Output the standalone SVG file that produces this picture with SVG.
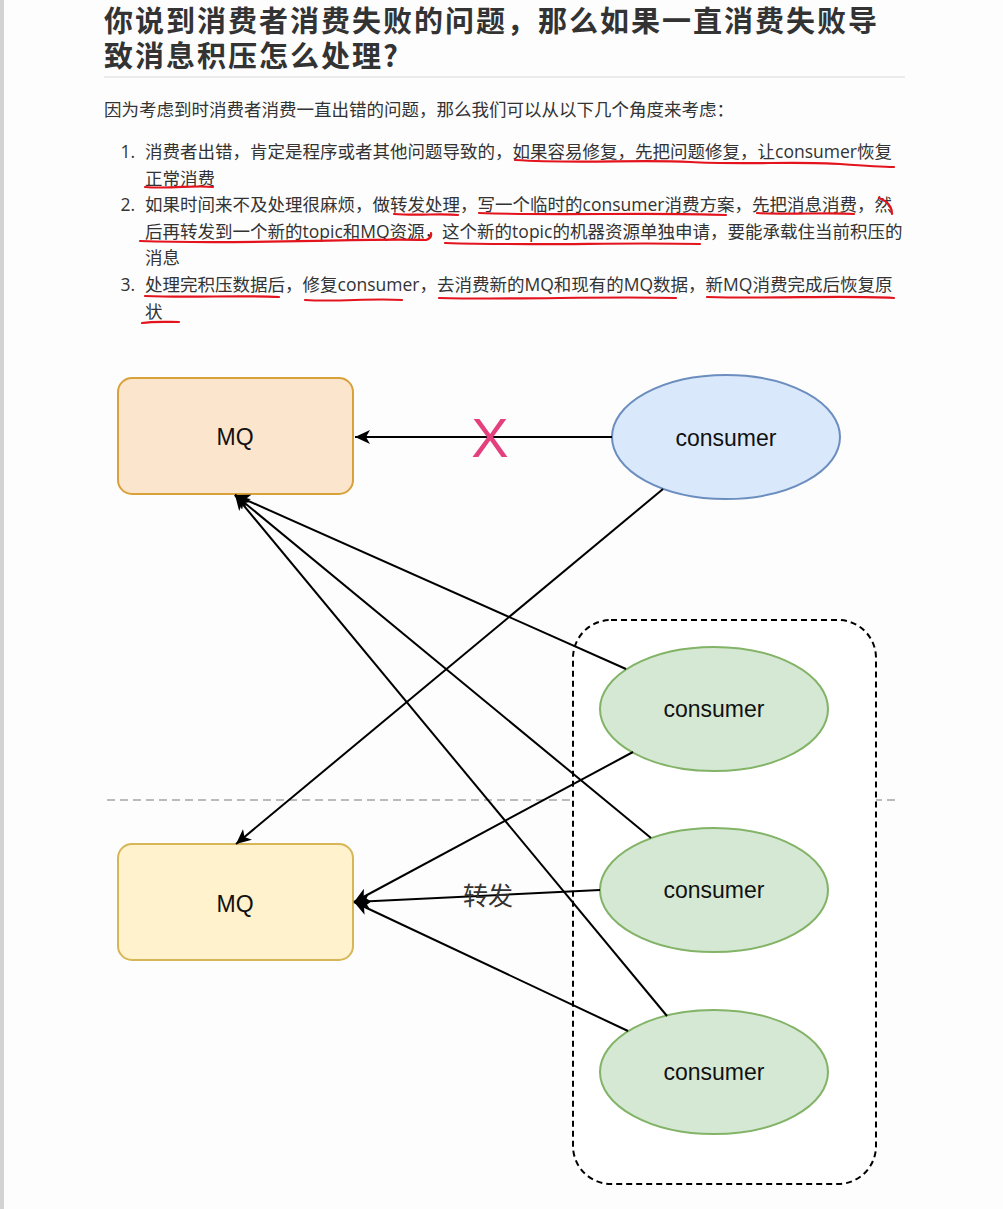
<svg xmlns="http://www.w3.org/2000/svg" width="1003" height="1209" viewBox="0 0 1003 1209">
<style>
.title{font-family:"Noto Sans CJK SC","Noto Sans",sans-serif;font-weight:700;font-size:29px;letter-spacing:2px;fill:#333}
.body{font-family:"Open Sans","Noto Sans CJK SC",sans-serif;font-size:17.5px;fill:#333}
.num{font-family:"Open Sans","Noto Sans CJK SC",sans-serif;font-size:17.5px;fill:#333;text-anchor:end}
.red{fill:none;stroke:#e3141d;stroke-width:2.2;stroke-linecap:round;stroke-linejoin:round}
.lbl{font-family:"Liberation Sans",Arial,sans-serif;font-size:23px;fill:#111;text-anchor:middle}
.conn{fill:none;stroke:#000;stroke-width:2}
.mq1{fill:#fbe5cd;stroke:#d8a13a;stroke-width:2}
.mq2{fill:#fff2cc;stroke:#d6b656;stroke-width:2}
.blue{fill:#dae8fc;stroke:#6c8ebf;stroke-width:2}
.green{fill:#d5e8d4;stroke:#82b366;stroke-width:2}
</style>
<defs>
<marker id="arr" markerUnits="userSpaceOnUse" markerWidth="16" markerHeight="14" refX="15" refY="7" orient="auto" viewBox="0 0 16 14">
<path d="M0,0 L15,7 L0,14 L4,7 Z" fill="#000"/>
</marker>
</defs>
<rect x="0" y="0" width="1003" height="1209" fill="#fdfdfd"/>
<rect x="0" y="0" width="4" height="1209" fill="#d3d3d3"/>

<g id="heading">
<text class="title" x="104" y="32"><tspan x="104" y="32">你说到消费者消费失败的问题，那么如果一直消费失败导</tspan><tspan x="104" y="67">致消息积压怎么处理?</tspan></text>
<line x1="104" y1="77" x2="905" y2="77" stroke="#ebebeb" stroke-width="2"/>
</g>

<g id="text">
<text class="body" x="104" y="116">因为考虑到时消费者消费一直出错的问题，那么我们可以从以下几个角度来考虑：</text>
<text class="num" x="135" y="158">1.</text>
<text class="body" x="145" y="158">消费者出错，肯定是程序或者其他问题导致的，如果容易修复，先把问题修复，让consumer恢复</text>
<text class="body" x="145" y="185">正常消费</text>
<text class="num" x="135" y="211">2.</text>
<text class="body" x="145" y="211">如果时间来不及处理很麻烦，做转发处理，写一个临时的consumer消费方案，先把消息消费，然</text>
<text class="body" x="145" y="238">后再转发到一个新的topic和MQ资源，这个新的topic的机器资源单独申请，要能承载住当前积压的</text>
<text class="body" x="145" y="264">消息</text>
<text class="num" x="135" y="291">3.</text>
<text class="body" x="145" y="291">处理完积压数据后，修复consumer，去消费新的MQ和现有的MQ数据，新MQ消费完成后恢复原</text>
<text class="body" x="145" y="318">状</text>
</g>

<g id="underlines">
<path class="red" d="M515,160 C580,164 640,159 690,162 S800,161 840,164 S880,167 894,167"/>
<path class="red" d="M145,187 C170,189 195,185 213,187"/>
<path class="red" d="M394,214 C420,216 440,213 458,215"/>
<path class="red" d="M479,213 C560,216 650,212 726,215"/>
<path class="red" d="M757,213 C790,215 830,212 854,214"/>
<path class="red" d="M879,198 Q892,203 892,214"/>
<path class="red" d="M140,241 C250,245 350,238 426,240 Q432,238 431,233"/>
<path class="red" d="M445,243 C540,246 620,242 700,244"/>
<path class="red" d="M145,296 C190,298 240,295 279,297"/>
<path class="red" d="M305,300 C340,302 370,298 402,300"/>
<path class="red" d="M439,298 C520,300 600,296 676,298"/>
<path class="red" d="M707,297 C780,299 840,295 894,298"/>
<path class="red" d="M142,323 C155,321 168,322 179,322"/>
</g>

<line x1="107" y1="800" x2="900" y2="800" stroke="#bbbbbb" stroke-width="2" stroke-dasharray="8 5"/>

<g id="group-container">
<rect x="573" y="620" width="303" height="564" rx="38" ry="38" fill="#fff" stroke="#000" stroke-width="2" stroke-dasharray="6 4"/>
</g>

<g id="mq-top">
<rect class="mq1" x="118" y="378" width="235" height="116" rx="14" ry="14"/>
<text class="lbl" x="235" y="445">MQ</text>
</g>
<g id="consumer-top">
<ellipse class="blue" cx="726" cy="437" rx="114" ry="62"/>
<text class="lbl" x="726" y="446">consumer</text>
</g>
<g id="mq-bottom">
<rect class="mq2" x="118" y="844" width="235" height="116" rx="14" ry="14"/>
<text class="lbl" x="235" y="912">MQ</text>
</g>
<g id="consumer-1">
<ellipse class="green" cx="714" cy="709" rx="114" ry="62"/>
<text class="lbl" x="714" y="717">consumer</text>
</g>
<g id="consumer-2">
<ellipse class="green" cx="714" cy="890" rx="114" ry="62"/>
<text class="lbl" x="714" y="898">consumer</text>
</g>
<g id="consumer-3">
<ellipse class="green" cx="714" cy="1072" rx="114" ry="62"/>
<text class="lbl" x="714" y="1080">consumer</text>
</g>

<g id="connectors">
<line class="conn" x1="612" y1="437" x2="355" y2="437" marker-end="url(#arr)"/>
<line class="conn" x1="626" y1="669" x2="235" y2="495" marker-end="url(#arr)"/>
<line class="conn" x1="651" y1="838" x2="235" y2="495" marker-end="url(#arr)"/>
<line class="conn" x1="667" y1="1016" x2="235" y2="495" marker-end="url(#arr)"/>
<line class="conn" x1="663" y1="489" x2="236" y2="844" marker-end="url(#arr)"/>
<line class="conn" x1="633" y1="752" x2="354" y2="902" marker-end="url(#arr)"/>
<line class="conn" x1="600" y1="890" x2="354" y2="902" marker-end="url(#arr)"/>
<line class="conn" x1="628" y1="1031" x2="354" y2="902" marker-end="url(#arr)"/>
<text x="490" y="457" font-family="Liberation Sans, Arial, sans-serif" font-size="56" fill="#e4407e" text-anchor="middle">X</text>
<text x="488" y="905" font-family="Noto Sans CJK SC, sans-serif" font-size="25" fill="#333" text-anchor="middle">转发</text>
</g>
</svg>
